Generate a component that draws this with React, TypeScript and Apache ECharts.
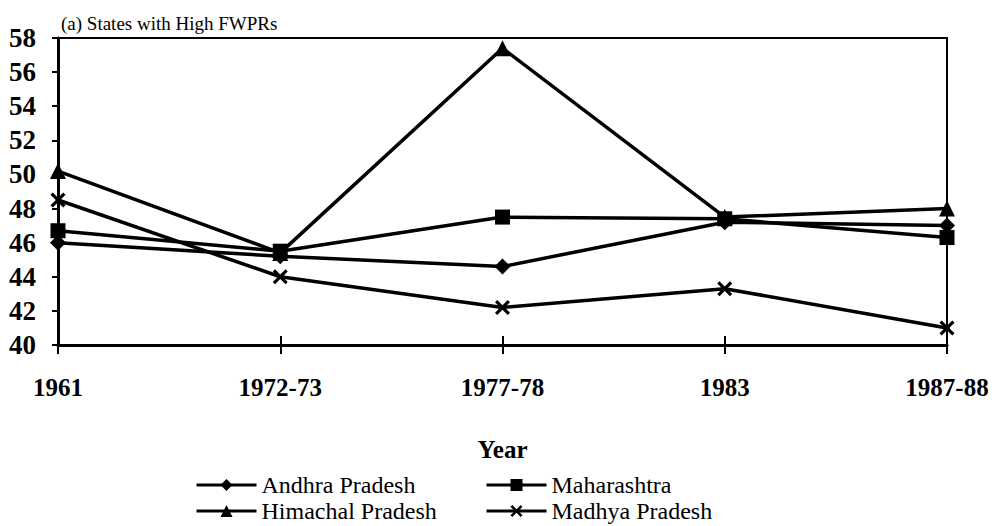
import React, { useEffect, useRef } from "react";
import * as echarts from "echarts";

const categories = ["1961", "1972-73", "1977-78", "1983", "1987-88"];
const yTicks = { min: 40, max: 58, interval: 2 };
const andhra = [46.0, 45.2, 44.6, 47.2, 47.0];
const maharashtra = [46.7, 45.5, 47.5, 47.4, 46.3];
const himachal = [50.2, 45.4, 57.4, 47.5, 48.0];
const madhya = [48.5, 44.0, 42.2, 43.3, 41.0];

const seriesNames = ["Andhra Pradesh", "Maharashtra", "Himachal Pradesh", "Madhya Pradesh"];
const titleText = "(a) States with High FWPRs";
const xName = "Year";

const crossPath =
  "path://M1.5,0 L5,3.5 L8.5,0 L10,1.5 L6.5,5 L10,8.5 L8.5,10 L5,6.5 L1.5,10 L0,8.5 L3.5,5 L0,1.5 Z";

const serif = "Liberation Serif";

export default function App() {
  const ref = useRef<HTMLDivElement>(null);
  useEffect(() => {
    if (!ref.current) return;
    const chart = echarts.init(ref.current, undefined, { renderer: "svg" });
    const mk = (name: string, data: number[], symbol: string, size: number) => ({
      name,
      type: "line",
      data,
      symbol,
      symbolSize: size,
      showAllSymbol: true,
      lineStyle: { color: "#000", width: 3.5 },
      itemStyle: { color: "#000" },
      emphasis: { disabled: true },
    });
    const legendBase = {
      itemWidth: 60,
      itemHeight: 15,
      itemStyle: { color: "#000" },
      lineStyle: { color: "#000", width: 3 },
      textStyle: { fontFamily: serif, fontSize: 24, lineHeight: 24, color: "#000" },
      padding: 0,
    };
    chart.setOption({
      animation: false,
      backgroundColor: "#fff",
      title: {
        text: titleText,
        left: 61,
        top: 14,
        padding: 0,
        textStyle: { fontFamily: serif, fontSize: 19, fontWeight: "normal", color: "#000" },
      },
      grid: {
        left: 58,
        right: 51,
        top: 38,
        bottom: 181,
        show: true,
        borderColor: "#000",
        borderWidth: 2,
      },
      legend: [
        { ...legendBase, data: [seriesNames[0]], left: 195, top: 473 },
        { ...legendBase, data: [seriesNames[1]], left: 485, top: 473 },
        { ...legendBase, data: [seriesNames[2]], left: 195, top: 499 },
        { ...legendBase, data: [seriesNames[3]], left: 485, top: 499 },
      ],
      xAxis: [
        {
          type: "category",
          data: categories,
          boundaryGap: false,
          axisLine: { lineStyle: { color: "#000", width: 3 } },
          axisTick: { show: true, length: 9, lineStyle: { color: "#000", width: 2 } },
          axisLabel: {
            color: "#000",
            fontFamily: serif,
            fontSize: 25,
            fontWeight: "bold",
            margin: 30,
          },
          name: xName,
          nameLocation: "middle",
          nameGap: 92,
          nameTextStyle: { color: "#000", fontFamily: serif, fontSize: 25, fontWeight: "bold" },
          splitLine: { show: false },
        },
        {
          type: "category",
          data: categories,
          boundaryGap: false,
          position: "bottom",
          axisLine: { show: false },
          axisTick: { show: true, inside: true, length: 9, lineStyle: { color: "#000", width: 2 } },
          axisLabel: { show: false },
          splitLine: { show: false },
        },
      ],
      yAxis: {
        type: "value",
        min: yTicks.min,
        max: yTicks.max,
        interval: yTicks.interval,
        axisLine: { show: true, lineStyle: { color: "#000", width: 3 } },
        axisTick: { show: true, length: 6, lineStyle: { color: "#000", width: 2 } },
        axisLabel: {
          color: "#000",
          fontFamily: serif,
          fontSize: 27,
          fontWeight: "bold",
          margin: 22,
        },
        splitLine: { show: false },
      },
      series: [
        mk(seriesNames[0], andhra, "diamond", 16),
        mk(seriesNames[1], maharashtra, "rect", 15),
        mk(seriesNames[2], himachal, "triangle", 16),
        mk(seriesNames[3], madhya, crossPath, 15),
      ],
    });
    return () => chart.dispose();
  }, []);
  return <div ref={ref} style={{ width: 998, height: 526, position: "absolute", left: 0, top: 0 }} />;
}
